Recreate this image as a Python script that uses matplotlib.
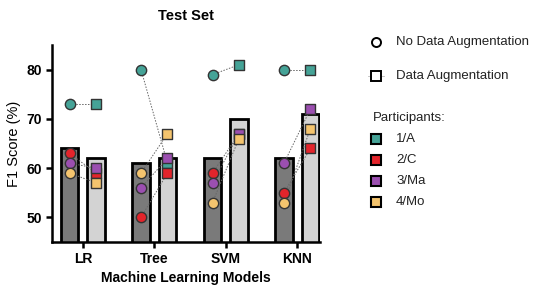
import numpy as np
import matplotlib
matplotlib.use("Agg")
import matplotlib.pyplot as plt
from matplotlib.lines import Line2D

plt.rcParams['font.family'] = ['Liberation Sans', 'DejaVu Sans']

models = ["LR", "Tree", "SVM", "KNN"]
participants = ["1/A", "2/C", "3/Ma", "4/Mo"]
colors = ["#45a397", "#e3242b", "#9b4fb0", "#f4c46e"]
bar_noaug = [64, 61, 62, 62]
bar_aug = [62, 62, 70, 71]
# rows: participants, cols: models
pts_noaug = [[73, 80, 79, 80],
             [63, 50, 59, 55],
             [61, 56, 57, 61],
             [59, 59, 53, 53]]
pts_aug = [[73, 61, 81, 80],
           [59, 59, 67, 64],
           [60, 62, 67, 72],
           [57, 67, 66, 68]]

fig = plt.figure(figsize=(5.37, 2.87), dpi=100)
ax = fig.add_axes([0.097, 0.157, 0.499, 0.686])

x = np.arange(len(models))
off, w = 0.185, 0.24
ax.bar(x - off, bar_noaug, w, color="#7a7a7a", edgecolor="black", linewidth=2, zorder=1)
ax.bar(x + off, bar_aug, w, color="#d3d3d3", edgecolor="black", linewidth=2, zorder=1)

for i in range(len(participants)):
    for j in range(len(models)):
        ax.plot([x[j] - off, x[j] + off], [pts_noaug[i][j], pts_aug[i][j]],
                color="#666666", linestyle=(0, (1.5, 1.5)), linewidth=0.7, zorder=2)
for i in range(len(participants)):
    ax.scatter(x - off, pts_noaug[i], s=55, marker="o", color=colors[i],
               edgecolor="#333333", linewidth=1, zorder=3)
    ax.scatter(x + off, pts_aug[i], s=50, marker="s", color=colors[i],
               edgecolor="#333333", linewidth=1, zorder=3)

ax.set_ylim(45, 85)
ax.set_xlim(-0.43, 3.32)
ax.set_yticks([50, 60, 70, 80])
ax.set_xticks(x)
ax.set_xticklabels(models, fontweight="bold", fontsize=10)
for t in ax.get_yticklabels():
    t.set_fontweight("bold")
    t.set_fontsize(10)
ax.spines["top"].set_visible(False)
ax.spines["right"].set_visible(False)
ax.spines["left"].set_linewidth(1.8)
ax.spines["bottom"].set_linewidth(1.8)
ax.tick_params(width=1.8, length=4)
ax.set_ylabel("F1 Score (%)", fontsize=10.5)
ax.set_xlabel("Machine Learning Models", fontweight="bold", fontsize=10, labelpad=3)
ax.set_title("Test Set", fontweight="bold", fontsize=10.5, pad=18)

# legend
def fx(px): return px / 537
def fy(py): return 1 - py / 287
fig.add_artist(Line2D([fx(376)], [fy(42)], marker="o", color="black", markerfacecolor="white",
                      markersize=6.5, markeredgewidth=1.4, transform=fig.transFigure))
fig.text(fx(396), fy(42), "No Data Augmentation", va="center", fontsize=9.5, color="#222222")
fig.add_artist(Line2D([fx(368), fx(384)], [fy(76), fy(76)], color="#bbbbbb", linewidth=0.6,
                      transform=fig.transFigure))
fig.add_artist(Line2D([fx(376)], [fy(76)], marker="s", color="black", markerfacecolor="white",
                      markersize=6.5, markeredgewidth=1.4, transform=fig.transFigure))
fig.text(fx(396), fy(76), "Data Augmentation", va="center", fontsize=9.5, color="#222222")
fig.text(fx(373), fy(118), "Participants:", va="center", fontsize=9.5, color="#222222")
for i, p in enumerate(participants):
    yy = fy(139 + 21 * i)
    fig.add_artist(Line2D([fx(376)], [yy], marker="s", color="black", markerfacecolor=colors[i],
                          markersize=7.5, markeredgewidth=1.5, transform=fig.transFigure))
    fig.text(fx(396), yy, p, va="center", fontsize=9.5, color="#222222")

fig.savefig("out.png", dpi=100)
